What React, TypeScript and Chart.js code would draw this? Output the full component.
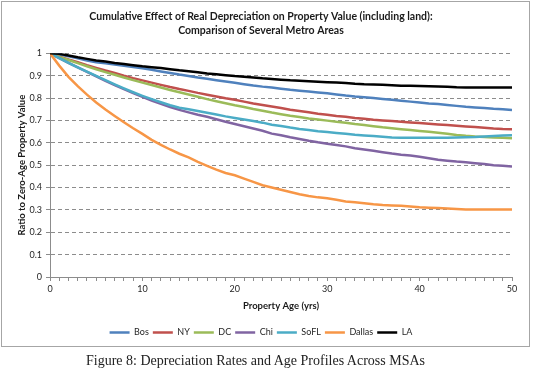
import React, { useEffect, useRef } from "react";
import { Chart, registerables } from "chart.js";

Chart.register(...registerables);

const ages = [0, 1, 2, 3, 4, 5, 6, 7, 8, 9, 10, 11, 12, 13, 14, 15, 16, 17, 18, 19, 20, 21, 22, 23, 24, 25, 26, 27, 28, 29, 30, 31, 32, 33, 34, 35, 36, 37, 38, 39, 40, 41, 42, 43, 44, 45, 46, 47, 48, 49, 50];

const bos = [1.0, 0.995, 0.987, 0.978, 0.968, 0.96, 0.955, 0.95, 0.944, 0.939, 0.933, 0.926, 0.919, 0.912, 0.905, 0.899, 0.892, 0.886, 0.88, 0.874, 0.868, 0.862, 0.856, 0.851, 0.847, 0.842, 0.837, 0.833, 0.829, 0.825, 0.821, 0.816, 0.811, 0.807, 0.804, 0.8, 0.796, 0.792, 0.788, 0.784, 0.78, 0.776, 0.773, 0.769, 0.765, 0.761, 0.758, 0.755, 0.752, 0.75, 0.747];
const ny = [1.0, 0.985, 0.972, 0.96, 0.947, 0.935, 0.923, 0.912, 0.9, 0.889, 0.879, 0.869, 0.859, 0.849, 0.84, 0.832, 0.823, 0.815, 0.807, 0.799, 0.792, 0.784, 0.776, 0.769, 0.762, 0.755, 0.748, 0.742, 0.736, 0.73, 0.725, 0.72, 0.716, 0.711, 0.707, 0.703, 0.7, 0.697, 0.694, 0.691, 0.688, 0.685, 0.682, 0.679, 0.676, 0.673, 0.67, 0.667, 0.664, 0.662, 0.661];
const dc = [1.0, 0.984, 0.97, 0.956, 0.942, 0.929, 0.916, 0.904, 0.892, 0.88, 0.869, 0.858, 0.847, 0.836, 0.826, 0.816, 0.806, 0.795, 0.786, 0.777, 0.768, 0.76, 0.751, 0.743, 0.735, 0.728, 0.721, 0.715, 0.709, 0.704, 0.699, 0.694, 0.69, 0.684, 0.679, 0.674, 0.669, 0.665, 0.661, 0.657, 0.653, 0.649, 0.645, 0.64, 0.635, 0.631, 0.628, 0.626, 0.624, 0.622, 0.62];
const chi = [1.0, 0.978, 0.957, 0.937, 0.917, 0.897, 0.877, 0.858, 0.84, 0.822, 0.805, 0.789, 0.774, 0.76, 0.747, 0.736, 0.725, 0.716, 0.705, 0.694, 0.684, 0.674, 0.664, 0.654, 0.641, 0.634, 0.625, 0.617, 0.609, 0.602, 0.596, 0.59, 0.584, 0.576, 0.57, 0.564, 0.558, 0.552, 0.547, 0.543, 0.538, 0.531, 0.524, 0.52, 0.516, 0.513, 0.509, 0.505, 0.5, 0.497, 0.494];
const sofl = [1.0, 0.978, 0.957, 0.937, 0.918, 0.899, 0.88, 0.861, 0.843, 0.826, 0.81, 0.795, 0.781, 0.768, 0.757, 0.75, 0.742, 0.734, 0.726, 0.718, 0.711, 0.704, 0.697, 0.69, 0.681, 0.675, 0.668, 0.662, 0.657, 0.652, 0.648, 0.644, 0.64, 0.636, 0.633, 0.63, 0.627, 0.624, 0.623, 0.622, 0.622, 0.622, 0.622, 0.623, 0.624, 0.625, 0.626, 0.628, 0.63, 0.632, 0.634];
const dallas = [1.0, 0.945, 0.895, 0.853, 0.815, 0.78, 0.749, 0.72, 0.692, 0.665, 0.64, 0.613, 0.591, 0.57, 0.551, 0.535, 0.515, 0.497, 0.48, 0.465, 0.455, 0.44, 0.425, 0.41, 0.4, 0.39, 0.38, 0.37, 0.362, 0.356, 0.352, 0.345, 0.338, 0.334, 0.33, 0.325, 0.322, 0.32, 0.318, 0.315, 0.312, 0.31, 0.308, 0.306, 0.304, 0.302, 0.302, 0.302, 0.302, 0.302, 0.302];
const la = [1.0, 0.998, 0.99, 0.982, 0.975, 0.968, 0.963, 0.957, 0.952, 0.947, 0.942, 0.938, 0.934, 0.929, 0.924, 0.92, 0.915, 0.91, 0.906, 0.902, 0.898, 0.895, 0.892, 0.888, 0.885, 0.882, 0.879, 0.877, 0.875, 0.873, 0.871, 0.869, 0.867, 0.864, 0.862, 0.861, 0.859, 0.857, 0.855, 0.855, 0.854, 0.853, 0.852, 0.851, 0.848, 0.847, 0.847, 0.847, 0.847, 0.847, 0.847];

const seriesNames = ["Bos", "NY", "DC", "Chi", "SoFL", "Dallas", "LA"];
const seriesValues = [bos, ny, dc, chi, sofl, dallas, la];
const seriesColors = ["#4F81BD", "#C0504D", "#9BBB59", "#8064A2", "#4BACC6", "#F79646", "#000000"];

const titleLines = [
  "Cumulative Effect of Real Depreciation on Property Value (including land):",
  "Comparison of Several Metro Areas",
];
const xTitle = "Property Age (yrs)";
const yTitle = "Ratio to Zero-Age Property Value";
const caption = "Figure 8: Depreciation Rates and Age Profiles Across MSAs";

const FONT = "Lato, 'Open Sans', sans-serif";

export default function App() {
  const ref = useRef<HTMLCanvasElement | null>(null);

  useEffect(() => {
    if (!ref.current) return;
    const datasets = seriesNames.map((name, i) => ({
      label: name,
      data: ages.map((a, j) => ({ x: a, y: seriesValues[i][j] })),
      borderColor: seriesColors[i],
      backgroundColor: seriesColors[i],
      borderWidth: 2.5,
      pointRadius: 0,
      tension: 0,
      order: seriesNames.length - i,
    }));
    const chart = new Chart(ref.current, {
      type: "line",
      data: { datasets },
      options: {
        animation: false,
        responsive: false,
        maintainAspectRatio: false,
        layout: { padding: { left: 10, right: 22, top: 4, bottom: 3 } },
        plugins: {
          title: {
            display: true,
            text: titleLines,
            color: "#1a1a1a",
            font: { family: FONT, size: 10.5, weight: "bold", lineHeight: 1.3 },
            padding: { top: 6, bottom: 16 },
          },
          legend: {
            position: "bottom",
            labels: {
              usePointStyle: true,
              pointStyle: "line",
              pointStyleWidth: 20,
              boxHeight: 9,
              padding: 4,
              color: "#262626",
              font: { family: FONT, size: 9 },
              sort: (a: any, b: any) => a.datasetIndex - b.datasetIndex,
            },
          },
          tooltip: { enabled: false },
        },
        scales: {
          x: {
            type: "linear",
            min: 0,
            max: 50,
            ticks: {
              stepSize: 1,
              autoSkip: false,
              maxRotation: 0,
              color: "#262626",
              font: { family: FONT, size: 9 },
              callback: (v: any) => (Number(v) % 10 === 0 ? String(v) : ""),
            },
            grid: { drawOnChartArea: false, drawTicks: true, tickLength: 4, color: "#8c8c8c" },
            border: { color: "#8c8c8c", width: 1 },
            title: {
              display: true,
              text: xTitle,
              color: "#1a1a1a",
              font: { family: FONT, size: 9.5, weight: "bold" },
              padding: { top: 3, bottom: 12 },
            },
            afterFit: (s: any) => {
              s.height = 47;
            },
          },
          y: {
            min: 0,
            max: 1,
            ticks: {
              stepSize: 0.1,
              color: "#262626",
              font: { family: FONT, size: 9 },
              padding: 4,
              callback: (v: any) => String(Number(Number(v).toFixed(1))),
            },
            grid: { color: "#8c8c8c", tickLength: 4, lineWidth: 1 },
            border: { color: "#8c8c8c", width: 1, dash: [4, 3] },
            title: {
              display: true,
              text: yTitle,
              color: "#1a1a1a",
              font: { family: FONT, size: 9.5, weight: "bold" },
              padding: { top: 6, bottom: 0 },
            },
            afterFit: (s: any) => {
              s.width = 40;
            },
          },
        },
      },
    });
    return () => chart.destroy();
  }, []);

  return (
    <div style={{ position: "absolute", left: 0, top: 0, width: 534, height: 376, background: "#fff" }}>
      <canvas ref={ref} width={534} height={350} style={{ position: "absolute", left: 0, top: 0, width: 534, height: 350 }} />
      <div
        style={{
          position: "absolute",
          left: 1,
          top: 1,
          width: 529,
          height: 346,
          boxSizing: "border-box",
          border: "1.5px solid #a6a6a6",
          pointerEvents: "none",
        }}
      />
      <div
        style={{
          position: "absolute",
          left: 0,
          top: 352,
          width: 511,
          textAlign: "center",
          fontFamily: "'Liberation Serif', 'DejaVu Serif', serif",
          fontSize: 14,
          color: "#222",
          lineHeight: "18px",
        }}
      >
        {caption}
      </div>
    </div>
  );
}
